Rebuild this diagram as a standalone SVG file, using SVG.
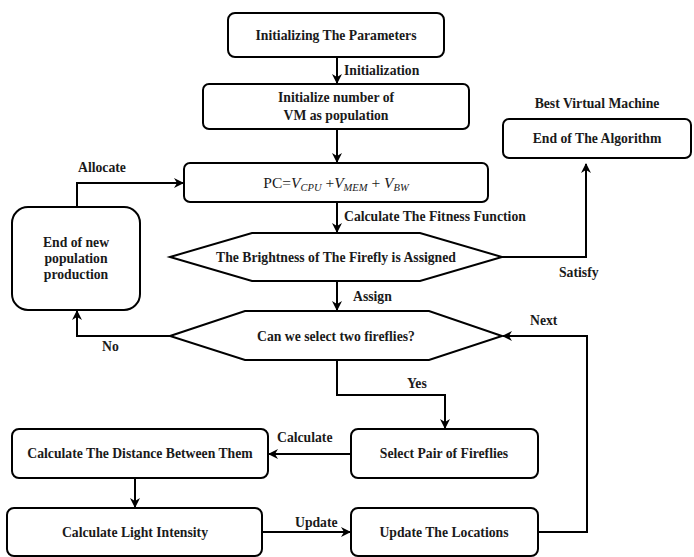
<svg xmlns="http://www.w3.org/2000/svg" width="694" height="557" viewBox="0 0 694 557">
<style>
.n{fill:#fff;stroke:#000;stroke-width:2}
.t{font-family:"Liberation Serif",serif;font-weight:bold;font-size:13.7px;fill:#1a1a1a;text-anchor:middle}
.l{font-family:"Liberation Serif",serif;font-weight:bold;font-size:13.7px;fill:#1a1a1a}
.c{fill:none;stroke:#000;stroke-width:2}
.m{font-family:"Liberation Serif",serif;font-size:15.5px;fill:#1a1a1a}
</style>
<defs>
<marker id="a" viewBox="0 0 10 10" refX="9" refY="5" markerWidth="10" markerHeight="10" markerUnits="userSpaceOnUse" orient="auto">
<path d="M0,0 L10,5 L0,10 L3,5 Z" fill="#000"/>
</marker>
</defs>
<rect width="694" height="557" fill="#fff"/>
<g id="connectors">
<path class="c" d="M337,57 V83" marker-end="url(#a)"/>
<path class="c" d="M337,129 V162" marker-end="url(#a)"/>
<path class="c" d="M337,202 V232" marker-end="url(#a)"/>
<path class="c" d="M502,257 H586 V164" marker-end="url(#a)"/>
<path class="c" d="M337,281 V310" marker-end="url(#a)"/>
<path class="c" d="M170,336 H77 V311" marker-end="url(#a)"/>
<path class="c" d="M77,207 V183 H183" marker-end="url(#a)"/>
<path class="c" d="M337,360 V395 H445 V428" marker-end="url(#a)"/>
<path class="c" d="M351,454 H269" marker-end="url(#a)"/>
<path class="c" d="M135,478 V507" marker-end="url(#a)"/>
<path class="c" d="M262,532 H350" marker-end="url(#a)"/>
<path class="c" d="M538,532 H587 V336 H503" marker-end="url(#a)"/>
<text class="l" x="344" y="75">Initialization</text>
<text class="l" x="344" y="221">Calculate The Fitness Function</text>
<text class="l" x="559" y="277">Satisfy</text>
<text class="l" x="353" y="301">Assign</text>
<text class="l" x="102" y="351">No</text>
<text class="l" x="78" y="172">Allocate</text>
<text class="l" x="407" y="388">Yes</text>
<text class="l" x="277" y="442">Calculate</text>
<text class="l" x="295" y="527">Update</text>
<text class="l" x="530" y="325">Next</text>
</g>
<g id="n1"><rect class="n" x="228" y="13" width="216" height="44" rx="7"/><text class="t" x="336" y="40">Initializing The Parameters</text></g>
<g id="n2"><rect class="n" x="203" y="84" width="266" height="45" rx="6"/><text class="t" x="336" y="102">Initialize number of</text><text class="t" x="336" y="120">VM as population</text></g>
<g id="n3"><rect class="n" x="184" y="163" width="304" height="39" rx="6"/>
<text class="m" x="336" y="188" text-anchor="middle">PC=<tspan font-style="italic">V</tspan><tspan font-style="italic" font-size="10.5" dy="3">CPU</tspan><tspan dy="-3"> +</tspan><tspan font-style="italic">V</tspan><tspan font-style="italic" font-size="10.5" dy="3">MEM</tspan><tspan dy="-3"> + </tspan><tspan font-style="italic">V</tspan><tspan font-style="italic" font-size="10.5" dy="3">BW</tspan></text></g>
<g id="n4"><polygon class="n" points="170,257 252,233 420,233 502,257 420,281 252,281"/><text class="t" x="336" y="262">The Brightness of The Firefly is Assigned</text></g>
<g id="n5"><rect class="n" x="503" y="119" width="188" height="39" rx="6"/><text class="t" x="597" y="143">End of The Algorithm</text></g>
<text class="t" x="597" y="108">Best Virtual Machine</text>
<g id="n6"><polygon class="n" points="170,336 245,311 429,311 502,336 429,360 245,360"/><text class="t" x="336" y="341">Can we select two fireflies?</text></g>
<g id="n7"><rect class="n" x="12" y="207" width="128" height="103" rx="16"/><text class="t" x="76" y="247">End of new</text><text class="t" x="76" y="263">population</text><text class="t" x="76" y="279">production</text></g>
<g id="n8"><rect class="n" x="351" y="429" width="187" height="49" rx="7"/><text class="t" x="444" y="458">Select Pair of Fireflies</text></g>
<g id="n9"><rect class="n" x="12" y="429" width="256" height="49" rx="7"/><text class="t" x="140" y="458">Calculate The Distance Between Them</text></g>
<g id="n10"><rect class="n" x="7" y="508" width="255" height="48" rx="7"/><text class="t" x="135" y="537">Calculate Light Intensity</text></g>
<g id="n11"><rect class="n" x="351" y="508" width="187" height="48" rx="7"/><text class="t" x="444" y="537">Update The Locations</text></g>
</svg>
